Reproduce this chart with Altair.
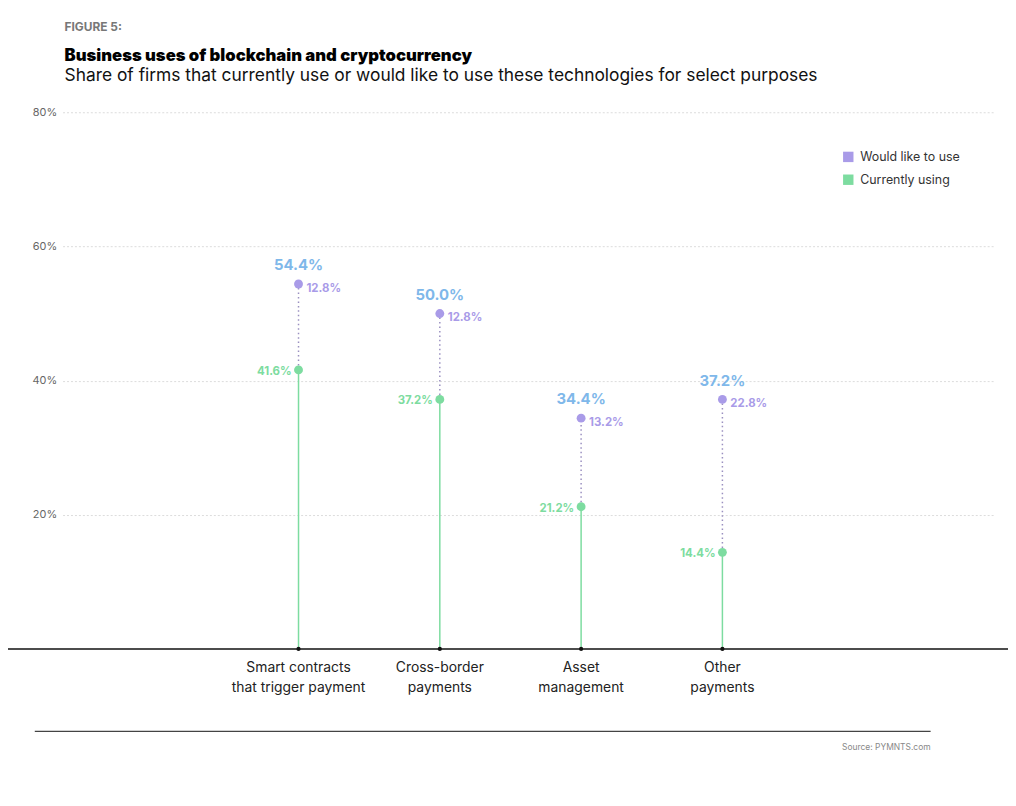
import altair as alt
import pandas as pd

categories = ["Smart contracts|that trigger payment", "Cross-border|payments", "Asset|management", "Other|payments"]
currently_using = [41.6, 37.2, 21.2, 14.4]
would_like = [12.8, 12.8, 13.2, 22.8]
totals = [54.4, 50.0, 34.4, 37.2]

df = pd.DataFrame({
    "idx": range(4),
    "label": [c.split("|") for c in categories],
    "cur": currently_using,
    "like": would_like,
    "total": totals,
})
df["cur_lbl"] = df["cur"].map(lambda v: f"{v:.1f}%")
df["like_lbl"] = df["like"].map(lambda v: f"{v:.1f}%")
df["total_lbl"] = df["total"].map(lambda v: f"{v:.1f}%")
df["zero"] = 0

GREEN = "#7ddca0"
PURPLE = "#a99be8"
BLUE = "#7fb8ea"
FONT = "Inter"

x = alt.X("idx:Q", scale=alt.Scale(domain=[-1.67, 4.93], nice=False, zero=False), axis=None)
y = alt.Y("cur:Q", scale=alt.Scale(domain=[0, 80], nice=False),
          axis=alt.Axis(values=[20, 40, 60, 80], labelExpr="datum.value + '%'", title=None,
                        domain=False, ticks=False, grid=True, gridDash=[2, 2], gridColor="#dcdcdc",
                        labelColor="#666", labelFont=FONT, labelFontSize=11, labelPadding=6))

base = alt.Chart(df)
stem = base.mark_rule(color=GREEN, strokeWidth=1.5).encode(x=x, y=y, y2="zero:Q")
dots_line = base.mark_rule(color="#9a90c0", strokeDash=[1.5, 3], strokeWidth=1.5).encode(x=x, y="cur:Q", y2="total:Q")
green_pt = base.mark_circle(color=GREEN, size=80, opacity=1).encode(x=x, y="cur:Q")
purple_pt = base.mark_circle(color=PURPLE, size=80, opacity=1).encode(x=x, y="total:Q")
cur_txt = base.mark_text(color=GREEN, align="right", dx=-7, dy=2, font=FONT, fontSize=11.5, fontWeight="bold").encode(
    x=x, y="cur:Q", text="cur_lbl:N")
like_txt = base.mark_text(color=PURPLE, align="left", dx=8, dy=5, font=FONT, fontSize=11.5, fontWeight="bold").encode(
    x=x, y="total:Q", text="like_lbl:N")
tot_txt = base.mark_text(color=BLUE, align="center", dy=-19, font=FONT, fontSize=15, fontWeight="bold").encode(
    x=x, y="total:Q", text="total_lbl:N")
base_tick = base.mark_circle(color="#111", size=18, opacity=1).encode(x=x, y="zero:Q")
cat_txt = base.mark_text(color="#222", align="center", baseline="top", font=FONT, fontSize=14, lineHeight=20).encode(
    x=x, y=alt.value(553), text="label")

one = alt.Chart(pd.DataFrame({"a": [0]}))
axis_line = one.mark_rule(color="#111", strokeWidth=1.5).encode(x=alt.value(-70), x2=alt.value(1010), y=alt.value(541))
bottom_line = one.mark_rule(color="#444", strokeWidth=1.2).encode(x=alt.value(-28), x2=alt.value(875), y=alt.value(624))
source = one.mark_text(text="Source: PYMNTS.com", align="right", font=FONT, fontSize=8.5, color="#888").encode(
    x=alt.value(875), y=alt.value(640))
fig = one.mark_text(text="FIGURE 5:", align="left", font=FONT, fontSize=12, fontWeight="bold", color="#777").encode(
    x=alt.value(2), y=alt.value(-86))
title = one.mark_text(text="Business uses of blockchain and cryptocurrency", align="left", font=FONT, fontSize=16.8,
                      fontWeight=900, color="#000").encode(x=alt.value(2), y=alt.value(-57))
subtitle = one.mark_text(text="Share of firms that currently use or would like to use these technologies for select purposes",
                         align="left", font=FONT, fontSize=17.5, color="#111").encode(x=alt.value(2), y=alt.value(-37))

leg = pd.DataFrame({"name": ["Would like to use", "Currently using"], "yy": [45, 68], "c": [PURPLE, GREEN]})
leg_sq = alt.Chart(leg).mark_square(size=110, opacity=1).encode(
    x=alt.value(792), y=alt.Y("yy:Q", scale=None), color=alt.Color("c:N", scale=None))
leg_txt = alt.Chart(leg).mark_text(align="left", font=FONT, fontSize=12.5, color="#333").encode(
    x=alt.value(804), y=alt.Y("yy:Q", scale=None), text="name:N")

chart = alt.layer(
    stem, dots_line, green_pt, purple_pt, cur_txt, like_txt, tot_txt, axis_line, base_tick, cat_txt,
    bottom_line, source, fig, title, subtitle, leg_sq, leg_txt,
).properties(
    width=940, height=541, padding={"left": 55, "top": 102, "right": 13, "bottom": 130},
    autosize=alt.AutoSizeParams(type="none"), background="white",
).configure_view(stroke=None)

chart.save("out.html", embed_options={"renderer": "svg", "actions": False})
